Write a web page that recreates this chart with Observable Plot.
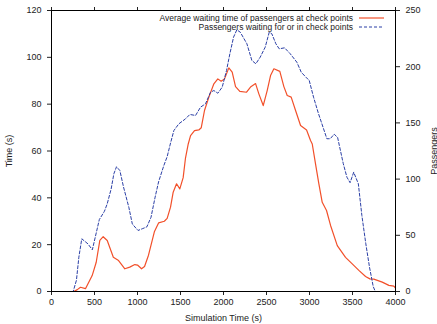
<!DOCTYPE html>
<html><head><meta charset="utf-8">
<script src="https://cdn.jsdelivr.net/npm/d3@7"></script>
<script src="https://cdn.jsdelivr.net/npm/@observablehq/plot@0.6"></script>
<style>
body{margin:0;background:#fff}
#chart svg{font-family:"Liberation Sans",Arial,Helvetica,sans-serif}
</style>
</head><body><div id="chart"></div>
<script>
// Average waiting time (s) vs simulation time (s)
const waitT = [0, 260, 300, 337, 395, 473, 520, 562, 601, 648, 719, 780, 853, 910, 969, 1000, 1047, 1082, 1128, 1196, 1245, 1312, 1345, 1384, 1415, 1454, 1492, 1531, 1558, 1590, 1617, 1663, 1713, 1741, 1779, 1830, 1888, 1934, 1973, 2012, 2062, 2101, 2140, 2190, 2268, 2314, 2373, 2411, 2462, 2508, 2547, 2586, 2655, 2702, 2741, 2787, 2838, 2896, 2966, 3012, 3032, 3070, 3109, 3148, 3198, 3245, 3323, 3419, 3497, 3574, 3652, 3702, 3748, 3846, 3923, 3981, 4000];
const waitV = [0, 0, 0.8, 1.8, 1.2, 6.8, 12.5, 21.8, 23.4, 21.8, 14.6, 13.2, 9.7, 10.4, 11.5, 11.3, 9.7, 10.7, 15.5, 25.5, 29.3, 30, 31.2, 36, 42.4, 46, 43.8, 48.6, 57, 63, 66.6, 68.7, 69, 69.9, 77.3, 83, 88.7, 90.8, 89.8, 90.8, 95.5, 93.7, 87.5, 85.5, 85.1, 87.3, 88.8, 84.4, 79.4, 85.8, 92.2, 95.1, 94, 87.5, 83.7, 83, 77.3, 70.9, 69, 64.5, 63, 54.5, 46, 38.1, 34.6, 28.2, 19.6, 14.6, 11.8, 9, 6.4, 5.4, 5.3, 4, 2.6, 2.3, 1.5];
// Passengers waiting vs simulation time (s)
const paxT = [0, 252, 290, 318, 352, 423, 475, 556, 615, 648, 694, 725, 756, 795, 838, 899, 940, 1006, 1055, 1109, 1157, 1205, 1245, 1306, 1345, 1384, 1423, 1481, 1558, 1609, 1675, 1733, 1791, 1849, 1888, 1934, 1985, 2035, 2074, 2117, 2155, 2195, 2272, 2330, 2376, 2427, 2485, 2532, 2562, 2609, 2648, 2710, 2776, 2853, 2904, 2958, 2997, 3047, 3105, 3144, 3202, 3241, 3287, 3327, 3392, 3435, 3472, 3514, 3568, 3609, 3655, 3698, 3741, 3765, 4000];
const paxV = [0, 0, 10, 30.5, 46.9, 42.4, 37.1, 64, 71.3, 78, 91.4, 104.7, 111, 107.6, 92.8, 75, 60, 54.3, 55.8, 57.5, 66, 84, 97.5, 112, 120, 132, 143.2, 149.2, 153.6, 157.5, 156.6, 164, 167, 177.3, 178.8, 176.4, 181.8, 196.6, 211.5, 226.3, 232.8, 230.7, 220.4, 205.5, 202.6, 208.5, 217.4, 230.7, 229.3, 220.4, 215.9, 216.8, 211.5, 204, 195.1, 190.7, 187.7, 172.9, 158.1, 149.2, 135.9, 135.9, 140, 137, 114, 101.7, 96.8, 106.1, 95.8, 67.6, 42.4, 21.5, 4.4, 0, 0];

const xTicks = [0, 500, 1000, 1500, 2000, 2500, 3000, 3500, 4000];
const yTicks = [0, 20, 40, 60, 80, 100, 120];
const y2Ticks = [0, 50, 100, 150, 200, 250];
const seriesNames = ["Average waiting time of passengers at check points", "Passengers waiting for or in check points"];
const axisLabels = {x: "Simulation Time (s)", y: "Time (s)", y2: "Passengers"};
const Y_MAX = 120, Y2_MAX = 250, X_MAX = 4000;
const colors = ["#f2502a", "#2b3fa6"];

const toLeft = v => v * Y_MAX / Y2_MAX;
const wait = waitT.map((t, i) => ({t, v: waitV[i]}));
const pax = paxT.map((t, i) => ({t, v: toLeft(paxV[i])}));

const chart = Plot.plot({
  width: 437, height: 324,
  marginLeft: 51, marginRight: 42, marginTop: 10, marginBottom: 33,
  style: {fontSize: "9px", fontFamily: "'Liberation Sans', Arial, sans-serif", color: "#222", background: "#fff"},
  x: {domain: [0, X_MAX]},
  y: {domain: [0, Y_MAX]},
  marks: [
    Plot.axisX({ticks: xTicks, tickFormat: d => String(d), tickSize: 4, tickPadding: 3, label: axisLabels.x, labelAnchor: "center", labelArrow: "none", labelOffset: 29}),
    Plot.axisX({anchor: "top", ticks: xTicks, tickSize: 4, tickFormat: () => "", label: null}),
    Plot.axisY({ticks: yTicks, tickFormat: d => String(d), tickSize: 4, tickPadding: 6, label: axisLabels.y, labelAnchor: "center", labelArrow: "none", labelOffset: 46}),
    Plot.axisY({anchor: "right", ticks: y2Ticks.map(toLeft), tickFormat: d => String(Math.round(d * Y2_MAX / Y_MAX)), tickSize: 4, tickPadding: 6, label: axisLabels.y2, labelAnchor: "center", labelArrow: "none", labelOffset: 41}),
    Plot.line(wait, {x: "t", y: "v", stroke: colors[0], strokeWidth: 1.2}),
    Plot.line(pax, {x: "t", y: "v", stroke: colors[1], strokeWidth: 1, strokeDasharray: "3,2"}),
    Plot.frame({stroke: "#000", strokeWidth: 1})
  ]
});

// legend (top-right inside frame)
const svg = d3.select(chart);
const lg = svg.append("g").attr("font-size", 8.5).attr("fill", "#222");
seriesNames.forEach((name, i) => {
  const y = 18 + i * 9;
  lg.append("text").attr("x", 353).attr("y", y).attr("dy", "0.35em").attr("text-anchor", "end").text(name);
  lg.append("line").attr("x1", 359).attr("x2", 384).attr("y1", y).attr("y2", y)
    .attr("stroke", colors[i]).attr("stroke-width", i === 0 ? 1.2 : 1)
    .attr("stroke-dasharray", i === 0 ? null : "3,2");
});

document.getElementById("chart").appendChild(chart);
</script>
</body></html>
